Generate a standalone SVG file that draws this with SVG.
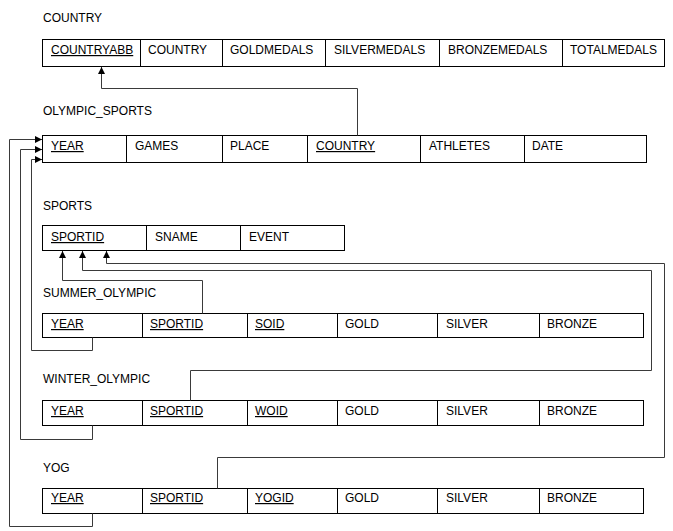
<svg xmlns="http://www.w3.org/2000/svg" width="673" height="531" viewBox="0 0 673 531">
<style>
text{font-family:"Liberation Sans",Arial,sans-serif;font-size:12px;fill:#000}
.u{text-decoration:underline}
.box{fill:#fff;stroke:#000;stroke-width:1}
.div{stroke:#000;stroke-width:1}
.c{fill:none;stroke:#3a3a3a;stroke-width:1}
</style>
<defs>
<marker id="ah" markerUnits="userSpaceOnUse" markerWidth="8" markerHeight="8" refX="7" refY="3.5" orient="auto">
<path d="M0,0 L7,3.5 L0,7 z" fill="#000"/>
</marker>
</defs>
<rect width="673" height="531" fill="#fff"/>

<g id="country">
<text x="43" y="22">COUNTRY</text>
<rect class="box" x="42.5" y="39.5" width="622" height="27"/>
<path class="div" d="M140.5,39.5V66.5M222.5,39.5V66.5M325.5,39.5V66.5M439.5,39.5V66.5M562.5,39.5V66.5"/>
<text x="51" y="54" class="u">COUNTRYABB</text>
<text x="148" y="54">COUNTRY</text>
<text x="230" y="54">GOLDMEDALS</text>
<text x="334" y="54">SILVERMEDALS</text>
<text x="448" y="54">BRONZEMEDALS</text>
<text x="570" y="54">TOTALMEDALS</text>
</g>

<g id="olympic_sports">
<text x="43" y="115">OLYMPIC_SPORTS</text>
<rect class="box" x="42.5" y="135.5" width="604" height="27"/>
<path class="div" d="M126.5,135.5V162.5M222.5,135.5V162.5M307.5,135.5V162.5M420.5,135.5V162.5M524.5,135.5V162.5"/>
<text x="51" y="150" class="u">YEAR</text>
<text x="135" y="150">GAMES</text>
<text x="230" y="150">PLACE</text>
<text x="316" y="150" class="u">COUNTRY</text>
<text x="429" y="150">ATHLETES</text>
<text x="532" y="150">DATE</text>
</g>

<g id="sports">
<text x="43" y="210">SPORTS</text>
<rect class="box" x="42.5" y="225.5" width="302" height="25"/>
<path class="div" d="M146.5,225.5V250.5M240.5,225.5V250.5"/>
<text x="51" y="241" class="u">SPORTID</text>
<text x="155" y="241">SNAME</text>
<text x="249" y="241">EVENT</text>
</g>

<g id="summer_olympic">
<text x="43" y="297">SUMMER_OLYMPIC</text>
<rect class="box" x="42.5" y="313.5" width="601" height="24"/>
<path class="div" d="M142.5,313.5V337.5M247.5,313.5V337.5M337.5,313.5V337.5M437.5,313.5V337.5M539.5,313.5V337.5"/>
<text x="51" y="328" class="u">YEAR</text>
<text x="150" y="328" class="u">SPORTID</text>
<text x="255" y="328" class="u">SOID</text>
<text x="345" y="328">GOLD</text>
<text x="446" y="328">SILVER</text>
<text x="547" y="328">BRONZE</text>
</g>

<g id="winter_olympic">
<text x="43" y="383">WINTER_OLYMPIC</text>
<rect class="box" x="42.5" y="400.5" width="601" height="25"/>
<path class="div" d="M142.5,400.5V425.5M247.5,400.5V425.5M337.5,400.5V425.5M437.5,400.5V425.5M539.5,400.5V425.5"/>
<text x="51" y="415" class="u">YEAR</text>
<text x="150" y="415" class="u">SPORTID</text>
<text x="255" y="415" class="u">WOID</text>
<text x="345" y="415">GOLD</text>
<text x="446" y="415">SILVER</text>
<text x="547" y="415">BRONZE</text>
</g>

<g id="yog">
<text x="43" y="472">YOG</text>
<rect class="box" x="42.5" y="488.5" width="601" height="25"/>
<path class="div" d="M142.5,488.5V513.5M247.5,488.5V513.5M337.5,488.5V513.5M437.5,488.5V513.5M539.5,488.5V513.5"/>
<text x="51" y="502" class="u">YEAR</text>
<text x="150" y="502" class="u">SPORTID</text>
<text x="255" y="502" class="u">YOGID</text>
<text x="345" y="502">GOLD</text>
<text x="446" y="502">SILVER</text>
<text x="547" y="502">BRONZE</text>
</g>

<g id="connectors">
<path class="c" marker-end="url(#ah)" d="M357.5,135.5V88.5H101.5V67"/>
<path class="c" marker-end="url(#ah)" d="M92.5,337.5V350.5H31.5V159.5H42"/>
<path class="c" marker-end="url(#ah)" d="M92.5,425.5V439.5H20.5V149.5H42"/>
<path class="c" marker-end="url(#ah)" d="M92.5,513.5V526.5H9.5V139.5H42"/>
<path class="c" marker-end="url(#ah)" d="M202.5,313.5V280.5H62.5V251"/>
<path class="c" marker-end="url(#ah)" d="M190.5,400.5V370.5H651.5V270.5H82.5V251"/>
<path class="c" marker-end="url(#ah)" d="M217.5,488.5V457.5H664.5V263.5H106.5V251"/>
</g>
</svg>
